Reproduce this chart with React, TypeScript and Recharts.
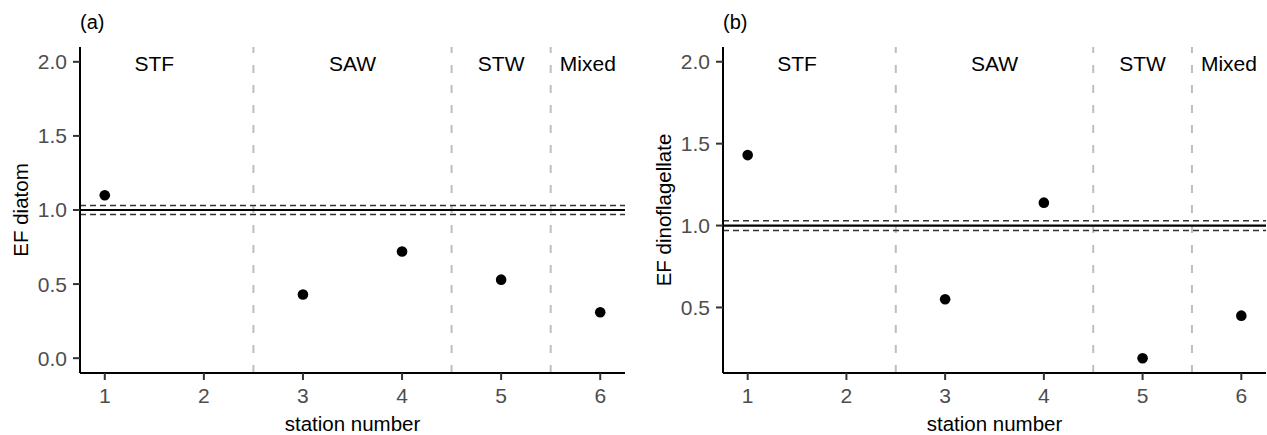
import React from "react";
import {
  ScatterChart,
  Scatter,
  XAxis,
  YAxis,
  ReferenceLine,
  ReferenceDot,
} from "recharts";

const stations = [1, 2, 3, 4, 5, 6];
const diatomEF = [1.1, null, 0.43, 0.72, 0.53, 0.31];
const dinoEF = [1.43, null, 0.55, 1.14, 0.19, 0.45];

const zoneNames = ["STF", "SAW", "STW", "Mixed"];
const zoneCentres = [1.5, 3.5, 5, 5.875];
const zoneBounds = [2.5, 4.5, 5.5];

const diatomTicks = [0, 0.5, 1, 1.5, 2];
const dinoTicks = [0.5, 1, 1.5, 2];

const FONT = "'Liberation Sans', Arial, Helvetica, sans-serif";

function toPoints(values: (number | null)[]) {
  return stations
    .map((x, i) => ({ x, y: values[i] }))
    .filter((p) => p.y !== null);
}

function ZoneText(props: any) {
  const { viewBox, text } = props;
  const cx = viewBox.x + viewBox.width / 2;
  const cy = viewBox.y + viewBox.height / 2;
  return (
    <text x={cx} y={cy + 9.5} textAnchor="middle" fontSize={21} fill="#000">
      {text}
    </text>
  );
}

function XTitle(props: any) {
  const { viewBox } = props;
  return (
    <text
      x={viewBox.x + viewBox.width / 2}
      y={viewBox.y + 58}
      textAnchor="middle"
      fontSize={20.5}
      fill="#000"
    >
      station number
    </text>
  );
}

function YTitle(props: any) {
  const { viewBox, text } = props;
  const x = viewBox.x + viewBox.width - 52;
  const y = viewBox.y + viewBox.height / 2;
  return (
    <text
      x={x}
      y={y}
      textAnchor="middle"
      fontSize={20.5}
      fill="#000"
      transform={`rotate(-90, ${x}, ${y})`}
    >
      {text}
    </text>
  );
}

function Dot(props: any) {
  return <circle cx={props.cx} cy={props.cy} r={5.3} fill="#000" />;
}

function Panel(props: {
  tag: string;
  values: (number | null)[];
  yDomain: [number, number];
  yTicks: number[];
  yTitle: string;
  left: number;
  width: number;
  yWidth: number;
  right: number;
}) {
  const data = toPoints(props.values);
  return (
    <div style={{ position: "absolute", left: props.left, top: 0 }}>
      <div
        style={{
          position: "absolute",
          left: props.yWidth,
          top: 12,
          fontSize: 20,
          lineHeight: "20px",
          color: "#000",
        }}
      >
        {props.tag}
      </div>
      <ScatterChart
        width={props.width}
        height={435}
        margin={{ top: 47, right: props.right, bottom: 2, left: 0 }}
      >
        <XAxis
          dataKey="x"
          type="number"
          domain={[0.75, 6.25]}
          ticks={stations}
          interval={0}
          allowDataOverflow
          height={60}
          tickSize={7}
          tickMargin={8}
          tick={{ fill: "#4D4D4D", fontSize: 21 }}
          tickLine={{ stroke: "#333", strokeWidth: 2 }}
          axisLine={{ stroke: "#000", strokeWidth: 2 }}
          label={<XTitle />}
        />
        <YAxis
          dataKey="y"
          type="number"
          domain={props.yDomain}
          ticks={props.yTicks}
          interval={0}
          allowDataOverflow
          width={props.yWidth}
          tickSize={7}
          tickMargin={6}
          tickFormatter={(v: number) => v.toFixed(1)}
          tick={{ fill: "#4D4D4D", fontSize: 21 }}
          tickLine={{ stroke: "#333", strokeWidth: 2 }}
          axisLine={{ stroke: "#000", strokeWidth: 2 }}
          label={<YTitle text={props.yTitle} />}
        />
        {zoneBounds.map((b) => (
          <ReferenceLine
            key={b}
            x={b}
            stroke="#BEBEBE"
            strokeWidth={2}
            strokeDasharray="8 12"
          />
        ))}
        <ReferenceLine y={1.03} stroke="#333" strokeWidth={1.5} strokeDasharray="6 4" />
        <ReferenceLine y={0.97} stroke="#333" strokeWidth={1.5} strokeDasharray="6 4" />
        <ReferenceLine y={1} stroke="#000" strokeWidth={2.2} />
        {zoneNames.map((name, i) => (
          <ReferenceDot
            key={name}
            x={zoneCentres[i]}
            y={2}
            r={0}
            fill="none"
            stroke="none"
            label={<ZoneText text={name} />}
          />
        ))}
        <Scatter data={data} shape={<Dot />} isAnimationActive={false} />
      </ScatterChart>
    </div>
  );
}

export default function App() {
  return (
    <div
      style={{
        position: "absolute",
        left: 0,
        top: 0,
        width: 1267,
        height: 435,
        background: "#fff",
        fontFamily: FONT,
      }}
    >
      <Panel
        tag="(a)"
        values={diatomEF}
        yDomain={[-0.1, 2.1]}
        yTicks={diatomTicks}
        yTitle="EF diatom"
        left={0}
        width={633}
        yWidth={80}
        right={8}
      />
      <Panel
        tag="(b)"
        values={dinoEF}
        yDomain={[0.1, 2.09]}
        yTicks={dinoTicks}
        yTitle="EF dinoflagellate"
        left={633}
        width={634}
        yWidth={90}
        right={1}
      />
    </div>
  );
}
